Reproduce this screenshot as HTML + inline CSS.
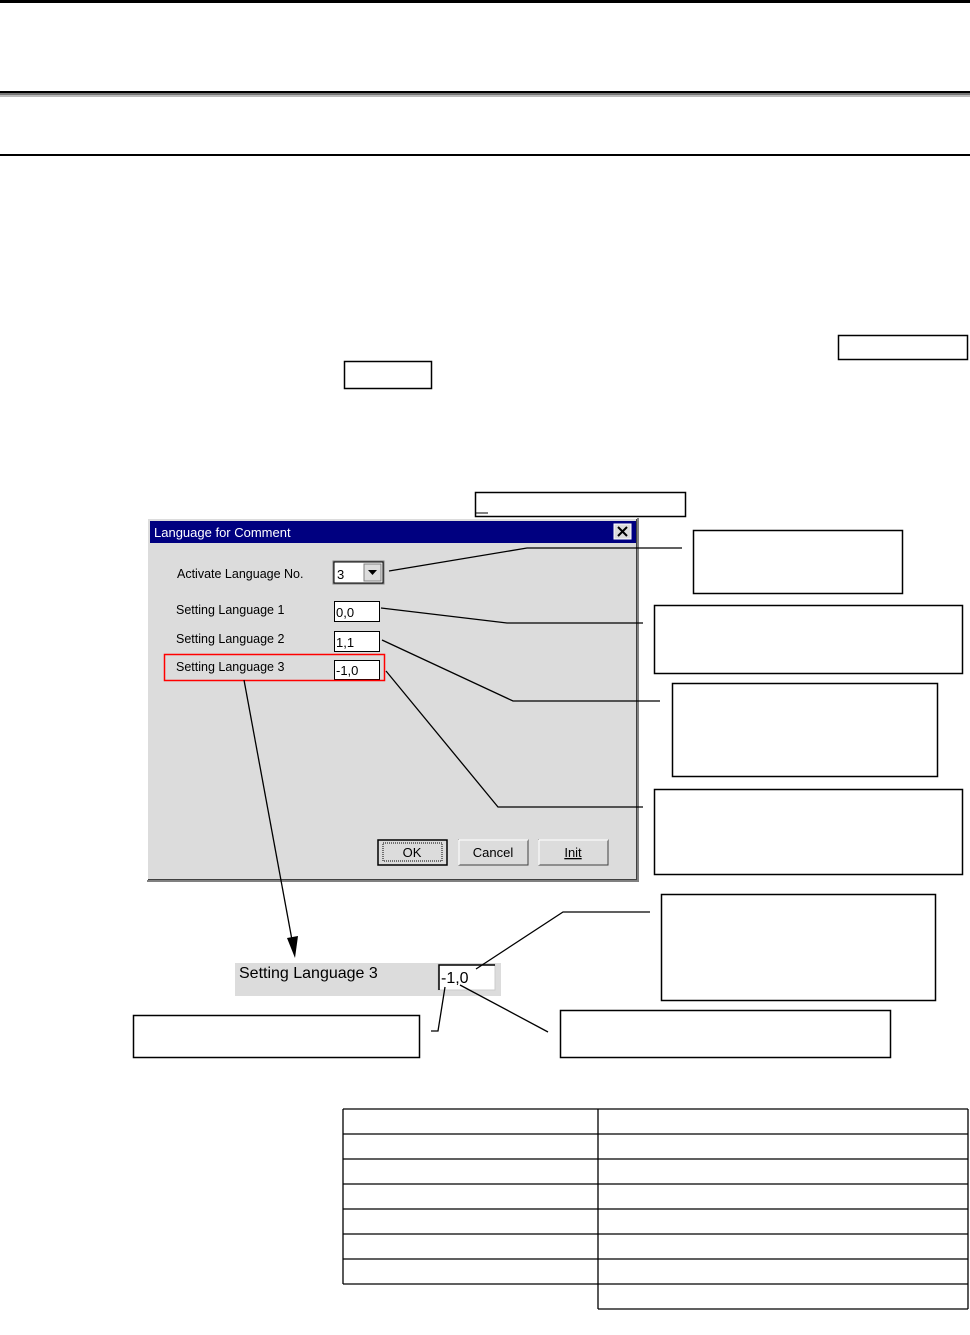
<!DOCTYPE html>
<html><head><meta charset="utf-8"><style>
html,body{margin:0;padding:0;background:#fff;}
svg{display:block;}
text{font-family:"Liberation Sans","Noto Sans CJK JP",sans-serif;}
</style></head><body>
<svg width="970" height="1335" viewBox="0 0 970 1335" xmlns="http://www.w3.org/2000/svg">
<rect x="0" y="0" width="970" height="3" fill="#000"/>
<rect x="0" y="91" width="970" height="2" fill="#000"/>
<rect x="0" y="93" width="970" height="2" fill="#777"/>
<rect x="0" y="95" width="970" height="2" fill="#bbb"/>
<rect x="0" y="154" width="970" height="2" fill="#000"/>

<g fill="none" stroke="#000" stroke-width="1.5">
<rect x="838.5" y="335.5" width="129" height="24"/>
<rect x="344.5" y="361.5" width="87" height="27"/>
<rect x="475.5" y="492.5" width="210" height="24"/>
</g>
<line x1="476" y1="513" x2="488" y2="513" stroke="#000"/>

<rect x="147" y="518" width="492" height="364" fill="#808080"/>
<rect x="147" y="518" width="490" height="362" fill="#fff"/>
<rect x="148" y="519" width="489" height="361" fill="#404040"/>
<rect x="148" y="519" width="488" height="360" fill="#dcdcdc"/>
<rect x="150" y="521" width="486" height="22" fill="#000080"/>
<text x="154" y="537" font-size="13" fill="#fff">Language for Comment</text>
<rect x="614" y="524" width="17" height="15" fill="#dcdcdc" stroke="#fff" stroke-width="1"/>
<path d="M618 527 L627 536 M627 527 L618 536" stroke="#000" stroke-width="2"/>

<g font-size="12.5" fill="#000">
<text x="177" y="578">Activate Language No.</text>
<text x="176" y="614">Setting Language 1</text>
<text x="176" y="643">Setting Language 2</text>
<text x="176" y="671">Setting Language 3</text>
</g>
<rect x="333" y="561" width="51" height="23" fill="#fff" stroke="#808080"/>
<rect x="334" y="562" width="49" height="21" fill="#fff" stroke="#000"/>
<rect x="364" y="564" width="17" height="17" fill="#dcdcdc" stroke="#808080"/>
<path d="M368 570 L377 570 L372.5 575 Z" fill="#000"/>
<text x="337" y="579" font-size="13">3</text>
<g fill="#fff" stroke="#000">
<rect x="334.5" y="601.5" width="45" height="20"/>
<rect x="334.5" y="631.5" width="45" height="20"/>
<rect x="334.5" y="660.5" width="45" height="19"/>
</g>
<g font-size="13"><text x="336" y="617">0,0</text><text x="336" y="647">1,1</text><text x="336" y="675">-1,0</text></g>
<rect x="164.5" y="654.5" width="220" height="26" fill="none" stroke="#f00" stroke-width="1.5"/>
<rect x="378" y="840" width="69" height="25" fill="#dcdcdc" stroke="#000" stroke-width="1.5"/>
<rect x="383" y="843" width="59" height="18" fill="none" stroke="#000" stroke-dasharray="1,1"/>
<text x="412" y="857" font-size="13" text-anchor="middle">OK</text>
<rect x="459" y="840" width="69" height="25" fill="#dcdcdc" stroke="#404040"/>
<line x1="459" y1="840" x2="528" y2="840" stroke="#fff"/><line x1="459" y1="840" x2="459" y2="865" stroke="#fff"/>
<text x="493" y="857" font-size="13" text-anchor="middle">Cancel</text>
<rect x="539" y="840" width="69" height="25" fill="#dcdcdc" stroke="#404040"/>
<line x1="539" y1="840" x2="608" y2="840" stroke="#fff"/><line x1="539" y1="840" x2="539" y2="865" stroke="#fff"/>
<text x="573" y="857" font-size="13" text-anchor="middle" text-decoration="underline">Init</text>

<g fill="#fff" stroke="#000" stroke-width="1.5">
<rect x="693.5" y="530.5" width="209" height="63"/>
<rect x="654.5" y="605.5" width="308" height="68"/>
<rect x="672.5" y="683.5" width="265" height="93"/>
<rect x="654.5" y="789.5" width="308" height="85"/>
<rect x="661.5" y="894.5" width="274" height="106"/>
<rect x="560.5" y="1010.5" width="330" height="47"/>
<rect x="133.5" y="1015.5" width="286" height="42"/>
</g>

<rect x="235" y="963" width="266" height="33" fill="#dcdcdc"/>
<text x="239" y="978" font-size="16" fill="#000">Setting Language 3</text>
<rect x="438" y="964" width="57" height="26" fill="#fff" stroke="#ccc"/>
<path d="M439 990 L439 965 L495 965" fill="none" stroke="#000" stroke-width="1.5"/>
<text x="441" y="983" font-size="16">-1,0</text>

<g fill="none" stroke="#000" stroke-width="1.3">
<polyline points="389,571 527,548 682,548"/>
<polyline points="381,608 507,623 643,623"/>
<polyline points="382,640 513,701 660,701"/>
<polyline points="386,671 498,807 643,807"/>
<line x1="244" y1="680" x2="292" y2="940"/>
<polyline points="476,969 563,912 650,912"/>
<line x1="460" y1="985" x2="548" y2="1032"/>
<polyline points="445,987 438,1031 431,1031"/>
</g>
<path d="M295 958 L287 938 L298 936 Z" fill="#000"/>

<g stroke="#000" stroke-width="1.3" fill="none">
<line x1="343" y1="1109" x2="968" y2="1109"/>
<line x1="343" y1="1134" x2="968" y2="1134"/>
<line x1="343" y1="1159" x2="968" y2="1159"/>
<line x1="343" y1="1184" x2="968" y2="1184"/>
<line x1="343" y1="1209" x2="968" y2="1209"/>
<line x1="343" y1="1234" x2="968" y2="1234"/>
<line x1="343" y1="1259" x2="968" y2="1259"/>
<line x1="343" y1="1284" x2="968" y2="1284"/>
<line x1="598" y1="1309" x2="968" y2="1309"/>
<line x1="343" y1="1109" x2="343" y2="1284"/>
<line x1="598" y1="1109" x2="598" y2="1309"/>
<line x1="968" y1="1109" x2="968" y2="1309"/>
</g>
</svg>
</body></html>
